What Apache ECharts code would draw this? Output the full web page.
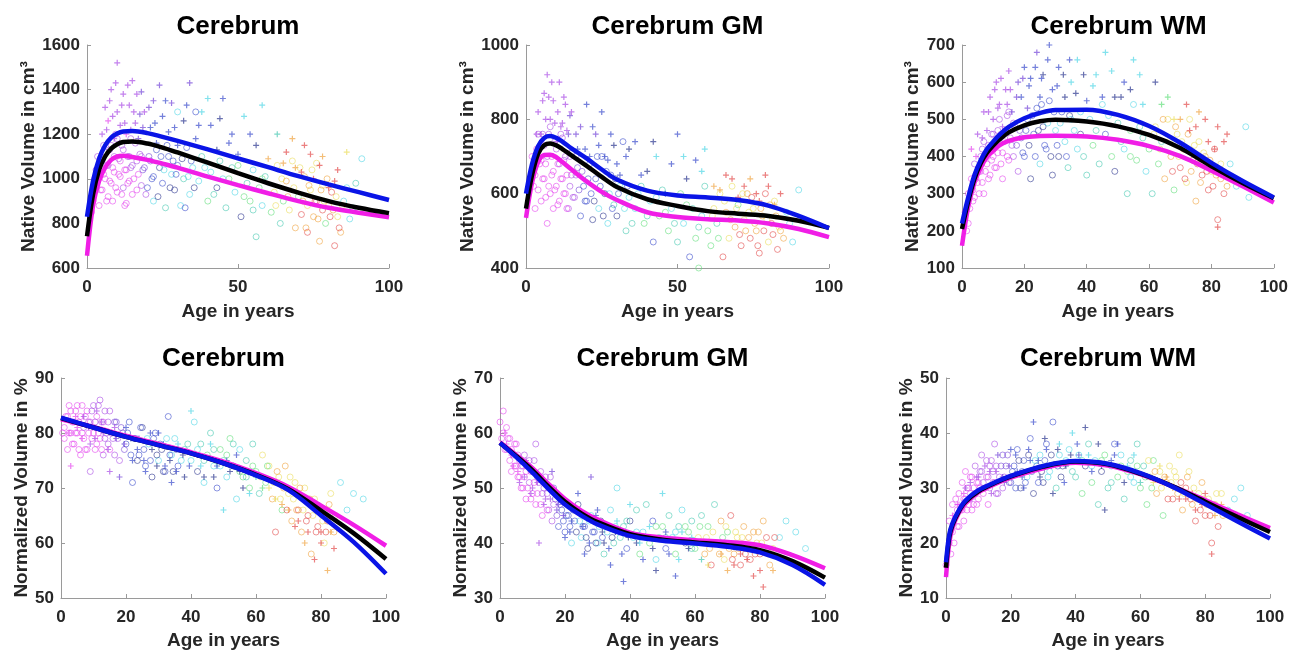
<!DOCTYPE html>
<html><head><meta charset="utf-8">
<script src="https://cdn.jsdelivr.net/npm/echarts@6/dist/echarts.min.js"></script>
<style>html,body{margin:0;padding:0;background:#fff}#c{width:1291px;height:651px}</style>
</head><body><div id="c"></div>
<script>
// palette index used by each scatter point (third value)
const PAL = ['#e445ee','#a94ce6','#7444d8','#3b4ccc','#2a348e','#4fd6e6','#45c8b0','#62df7c','#ebdd5a','#f0a23e','#e24a4a'];

// ---------- Panel 1: Cerebrum native ----------
const O1 = [[2,900,0],[3,960,0],[3,1040,1],[4,880,0],[4,1010,0],[5,1080,1],[5,950,0],[6,1120,1],[6,1000,0],[7,920,0],[7,1060,1],[8,1150,1],[8,980,0],[9,1030,0],[9,1100,1],[10,940,0],[10,1180,1],[11,1010,0],[11,1080,0],[12,960,1],[12,1130,1],[13,1040,0],[13,890,0],[14,1100,1],[14,990,0],[15,1060,1],[15,930,0],[16,1160,1],[17,1020,0],[18,970,1],[18,1100,1],[19,1050,2],
[20,960,3],[21,1080,2],[22,1010,3],[22,900,5],[23,1130,3],[24,1050,4],[25,980,3],[26,870,6],[27,1100,3],[28,1020,5],[29,950,4],[30,1060,3],[31,880,5],[32,1000,6],[33,1140,3],[34,930,5],[35,1050,5],[30,1300,5],[36,1300,3],
[37,990,5],[38,1100,6],[40,900,7],[41,1030,5],[43,960,4],[44,1080,6],[46,870,6],[47,1000,7],[49,940,5],[50,1060,7],[51,830,4],[53,980,6],[54,900,7],[55,1040,5],[56,740,6],[57,960,7],[58,880,5],[59,1010,6],
[61,850,7],[62,940,8],[63,1060,8],[64,800,6],[65,900,7],[66,990,9],[67,860,8],[68,1080,8],[69,780,9],[70,920,7],[71,840,10],[72,1010,9],[73,880,8],[73,760,10],[74,950,8],[75,830,9],[76,900,10],[76,1070,8],[77,720,9],[78,860,10],[78,970,8],[79,800,7],[80,880,9],[81,940,10],[82,700,10],[83,830,8],[84,760,9],[85,900,5],[87,820,5],[89,980,6],[91,1090,5],
[1.5,850,0],[2.5,1000,0],[3.5,1100,1],[4.5,950,0],[5.5,1020,0],[5.5,1150,1],[6.5,900,0],[6.5,1060,1],[7.5,990,0],[7.5,1130,1],[8.5,1050,0],[8.5,900,0],[9.5,960,0],[9.5,1200,1],[10.5,1020,0],[10.5,1090,1],[11.5,930,0],[11.5,1150,1],[12.5,1040,0],[12.5,880,0],[13.5,1100,1],[13.5,980,0],[14.5,1050,1],[14.5,1180,1],[15.5,1000,0],[16.5,1080,1],[16.5,950,0],[17.5,1110,1],[18.5,1040,2],[19.5,930,1],[20.5,1100,2],
[21.5,1000,3],[23.5,920,4],[24.5,1100,3],[25.5,1040,5],[26.5,1150,3],[27.5,960,4],[28.5,1080,3],[29.5,1020,3],[31.5,1090,4],[32.5,870,3],[33.5,1010,5],[34.5,1080,3],[35.5,960,4],
[39,1050,5],[42,930,6],[45,1000,5],[48,1050,6],[52,920,7],[55,860,6],[58,1000,7],
[62.5,880,8],[64.5,1000,8],[66.5,920,9],[68.5,960,8],[70.5,1050,8],[71.5,900,9],[72.5,780,9],[73.5,970,9],[74.5,1040,8],[75.5,900,10],[76.5,820,9],[77.5,950,9],[78.5,900,8],[79.5,1000,9],[80.5,830,10],[81.5,860,9],[82.5,920,8],[83.5,780,10],[84.5,880,8],[86,960,5],[88,870,6]];
const P1 = [[5,1200,1],[6,1320,1],[7,1260,0],[8,1400,1],[9,1180,1],[10,1300,1],[10,1520,1],[11,1240,1],[12,1380,1],[13,1200,0],[14,1330,1],[15,1440,1],[16,1250,1],[17,1180,2],[18,1390,2],[19,1300,1],[21,1230,3],[22,1350,2],[23,1160,3],[24,1420,2],[25,1280,3],[27,1210,3],[28,1340,2],[30,1150,3],[32,1260,4],[34,1430,2],[36,1180,3],[38,1300,5],[41,1240,3],[43,1130,4],[45,1360,3],[48,1200,3],[50,1110,3],[52,1280,5],[56,1150,4],[60,1090,9],[63,1200,6],[66,1120,10],[69,1050,9],[72,1150,10],[75,1000,10],[78,1100,9],[80,960,10],[83,1040,10],[86,1120,8],
[4.5,1100,1],[6.5,1220,1],[7.5,1350,1],[8.5,1280,1],[9.5,1430,1],[11.5,1330,1],[12.5,1250,1],[13.5,1420,1],[14.5,1220,1],[15.5,1300,1],[16.5,1380,1],[17.5,1290,2],[18.5,1230,2],[20.5,1320,2],[22.5,1250,3],[26,1350,3],[29,1230,3],[33,1330,3],[37,1240,3],[40,1360,5],[44,1270,4],[47,1160,3],[54,1200,3],[58,1330,5],[65,1070,9],[68,1180,9],[71,1030,10],[74,1110,10],[77,1060,10],[82,990,10]];
const AGE_A = [0,2,4,6,8,10,12,15,20,25,30,40,50,60,70,80,90,100];
const B1 = [830,990,1090,1150,1185,1203,1212,1214,1205,1188,1170,1132,1092,1052,1012,975,940,905];
const K1 = [742,930,1040,1100,1135,1155,1165,1167,1158,1140,1118,1072,1025,980,938,900,870,846];
const M1 = [655,880,990,1050,1085,1100,1103,1098,1085,1068,1050,1010,972,935,900,870,848,828];

// ---------- Panel 2: Cerebrum GM native ----------
const O2 = [[2,700,0],[3,560,0],[3,650,0],[4,760,1],[4,610,0],[5,690,0],[5,580,0],[6,730,1],[6,640,0],[7,520,0],[7,700,1],[8,600,0],[8,780,1],[9,660,0],[9,560,0],[10,720,1],[10,620,0],[11,680,1],[11,580,0],[12,750,1],[12,640,0],[13,600,0],[13,700,1],[14,560,1],[15,650,1],[15,710,2],[16,590,1],[17,670,2],[18,540,3],[19,620,3],
[20,580,3],[21,680,3],[22,530,4],[23,640,3],[24,560,5],[25,700,3],[26,600,4],[27,520,5],[28,650,3],[29,570,6],[30,540,4],[31,620,5],[32,740,3],[33,500,6],[34,590,5],
[36,560,5],[38,620,6],[39,520,7],[41,580,5],[42,470,3],[44,540,7],[45,610,6],[47,500,7],[48,560,5],[50,470,6],[51,600,7],[52,520,5],[54,430,3],[55,560,6],[56,480,7],[57,400,7],[58,540,5],[59,620,6],
[60,500,7],[61,460,7],[62,560,8],[63,520,6],[64,600,8],[65,430,10],[66,550,9],[67,480,8],[68,620,8],[69,510,9],[70,570,7],[71,460,10],[72,530,8],[73,600,9],[74,480,10],[75,560,8],[76,500,9],[77,440,10],[78,540,9],[79,600,10],[80,470,8],[81,520,10],[82,580,8],[83,450,10],[84,500,9],[86,550,5],[88,470,5],[90,610,5],
[2.5,620,0],[3.5,720,0],[4.5,680,0],[5.5,640,0],[5.5,760,1],[6.5,590,0],[6.5,680,0],[7.5,620,0],[7.5,760,1],[8.5,700,0],[8.5,650,0],[9.5,610,0],[9.5,740,1],[10.5,680,0],[10.5,570,0],[11.5,640,0],[11.5,760,1],[12.5,600,0],[12.5,690,1],[13.5,650,0],[13.5,560,0],[14.5,620,1],[14.5,700,1],[15.5,590,1],[16.5,650,1],[16.5,700,2],[17.5,610,2],[18.5,660,2],[19.5,580,3],[20.5,640,3],
[21.5,600,3],[22.5,580,4],[23.5,700,3],[24.5,620,3],[25.5,540,4],[26.5,660,3],[27.5,600,5],[28.5,560,3],[29.5,640,4],[30.5,600,3],[32.5,560,5],[33.5,620,3],[35,520,6],
[37,600,5],[40,540,6],[43,590,5],[46,550,7],[49,520,6],[53,570,7],[57,510,6],
[61.5,540,8],[63.5,480,7],[65.5,580,8],[67.5,530,9],[69.5,560,8],[70.5,490,10],[71.5,600,8],[72.5,500,9],[73.5,550,8],[74.5,590,10],[75.5,520,9],[76.5,460,10],[77.5,560,9],[78.5,500,10],[79.5,530,8],[80.5,570,9],[81.5,490,10],[82.5,540,9],[83.5,510,8],[85,480,9],[87,520,5]];
const P2 = [[4,820,1],[5,760,1],[6,870,1],[7,920,1],[8,800,1],[9,850,1],[10,740,1],[11,900,1],[12,790,1],[13,840,1],[14,760,2],[15,820,1],[17,720,3],[18,780,2],[20,840,3],[21,700,3],[23,760,2],[25,820,3],[27,690,3],[29,730,4],[31,650,3],[33,700,3],[36,740,3],[40,660,4],[43,700,5],[46,600,3],[50,760,3],[53,640,4],[56,690,3],[59,720,5],[62,620,9],[66,650,10],[70,590,10],[74,640,9],[77,580,10],[80,620,10],[84,600,10],
[3.5,760,1],[5.5,850,1],[6.5,800,1],[7.5,860,1],[8.5,900,1],[9.5,790,1],[10.5,820,1],[11.5,780,1],[12.5,860,1],[13.5,770,1],[14.5,810,2],[16.5,760,2],[19.5,720,3],[22,780,3],[24,730,3],[26,700,3],[28,760,3],[30,680,3],[34,720,4],[38,650,3],[42,740,4],[48,680,3],[52,700,5],[58,660,5],[64,610,9],[68,640,10],[72,620,10],[76,600,10],[79,650,10],[82,570,9]];
const B2 = [600,680,728,750,755,750,740,722,695,665,638,608,595,590,583,568,540,507];
const K2 = [560,650,708,730,735,730,720,703,675,645,618,585,567,553,546,540,527,508];
const M2 = [535,630,685,704,705,698,685,665,633,605,583,550,537,531,528,520,505,483];

// ---------- Panel 3: Cerebrum WM native ----------
const O3 = [[1,250,0],[2,300,0],[2,220,0],[3,340,0],[4,290,0],[4,380,1],[5,330,0],[6,400,1],[6,360,0],[7,300,0],[7,440,1],[8,380,0],[9,420,1],[9,350,0],[10,460,1],[10,400,0],[11,370,0],[12,440,1],[12,500,1],[13,410,0],[13,340,0],[14,470,1],[15,390,0],[15,520,1],[16,430,1],[17,480,2],[18,360,1],[19,450,2],
[20,400,3],[21,500,3],[22,340,4],[23,460,3],[24,530,3],[25,380,5],[26,480,4],[27,420,3],[28,550,3],[29,350,4],[30,470,5],[31,400,4],[32,520,3],[33,440,5],[34,370,6],[35,500,5],[37,420,5],[38,460,4],
[40,350,6],[41,500,5],[42,430,7],[44,380,6],[45,540,5],[46,460,3],[48,400,7],[49,360,4],[50,490,6],[52,420,5],[53,300,6],[54,470,7],[55,540,5],[56,390,7],[58,450,6],[59,360,5],
[60,420,7],[61,300,6],[62,480,8],[63,380,7],[64,440,6],[65,340,9],[66,500,8],[67,400,9],[68,310,7],[69,460,8],[70,370,10],[71,420,9],[72,330,8],[73,500,8],[74,390,10],[75,280,9],[76,440,8],[77,350,10],[78,400,9],[79,310,10],[80,360,8],[81,420,10],[82,230,10],[83,340,9],[84,300,10],[86,380,5],[88,320,5],[91,480,5],[92,290,5],
[1.5,200,0],[2.5,260,0],[3.5,280,0],[3.5,310,0],[4.5,340,0],[5.5,360,0],[5.5,300,0],[6.5,330,0],[6.5,420,1],[7.5,360,0],[7.5,400,0],[8.5,430,1],[8.5,340,0],[9.5,390,0],[9.5,460,1],[10.5,370,0],[10.5,430,1],[11.5,410,0],[11.5,470,1],[12.5,380,0],[12.5,460,1],[13.5,440,1],[14.5,400,0],[14.5,510,1],[15.5,450,1],[16.5,400,1],[16.5,490,1],[17.5,430,2],[18.5,470,2],[19.5,410,3],
[20.5,470,3],[21.5,430,4],[22.5,510,3],[23.5,400,3],[24.5,470,4],[25.5,540,3],[26.5,430,3],[27.5,490,5],[28.5,400,4],[29.5,520,3],[30.5,430,3],[31.5,490,5],[33.5,400,3],[34.5,510,4],[36,470,5],[38,520,5],[39,400,6],
[43,470,6],[47,510,5],[51,440,6],[54,400,7],[57,480,6],
[61.5,460,8],[63.5,420,8],[64.5,500,9],[66.5,440,8],[67.5,360,10],[68.5,480,9],[69.5,400,8],[70.5,440,8],[71.5,340,10],[72.5,460,9],[73.5,360,9],[74.5,430,8],[75.5,380,10],[76.5,330,9],[77.5,410,8],[78.5,360,10],[79.5,390,9],[80.5,320,10],[81.5,350,9],[83,380,8],[85,320,9]];
const P3 = [[3,420,0],[5,460,1],[7,520,1],[8,470,1],[9,560,1],[10,500,1],[11,600,1],[12,540,1],[13,480,1],[14,580,1],[15,630,1],[16,520,2],[18,600,2],[19,560,3],[20,640,3],[21,530,2],[22,610,3],[24,680,2],[25,560,3],[26,620,4],[28,700,3],[29,580,3],[31,640,3],[33,560,4],[35,600,5],[37,660,5],[40,550,3],[43,620,5],[46,680,5],[49,560,4],[52,600,3],[55,660,5],[58,540,5],[62,600,4],[66,560,7],[70,500,9],[73,470,10],[76,520,9],[79,440,10],[82,480,10],[85,460,10],[82,210,10],
[4.5,400,0],[6.5,450,1],[8.5,520,1],[10.5,580,1],[11.5,530,1],[12.5,610,1],[14.5,540,1],[15.5,580,1],[17.5,560,2],[19.5,610,2],[21.5,590,3],[23.5,640,3],[25.5,610,3],[27.5,660,3],[30.5,590,3],[32.5,620,4],[34.5,660,3],[36.5,570,4],[39,620,4],[42,590,5],[45,560,3],[48,630,5],[51,560,4],[54,580,4],[57,620,5],[64,540,7],[68,500,8],[72,540,10],[75,480,10],[78,500,10],[81,420,10],[84,440,10]];
const B3 = [220,290,350,390,420,440,458,480,503,517,525,526,512,482,437,383,334,290];
const K3 = [205,280,340,382,410,430,446,465,484,495,499,494,481,458,423,374,329,288];
const M3 = [160,265,330,370,398,415,430,442,452,455,456,454,445,428,401,362,320,276];

// ---------- Panel 4: Cerebrum normalized ----------
const O4 = [[1,81,0],[1,79,0],[2,83,0],[2,77,0],[3,80,0],[3,84,0],[4,78,0],[4,82,0],[5,85,0],[5,80,0],[6,76,0],[6,83,0],[7,79,0],[7,81,1],[8,84,0],[8,77,0],[9,82,0],[9,73,1],[10,80,0],[10,85,1],[11,78,0],[11,83,0],[12,86,1],[12,79,0],[13,76,1],[13,82,0],[14,80,1],[15,84,1],[15,77,0],[16,79,1],[17,82,2],[18,75,1],[19,80,2],
[20,78,3],[21,82,3],[22,71,3],[23,79,2],[24,76,3],[25,81,4],[26,74,3],[27,78,5],[28,72,4],[29,80,3],[30,75,5],[31,77,4],[32,73,3],[33,83,3],[34,76,5],[35,79,5],[36,74,3],[38,77,6],
[40,75,5],[41,82,5],[42,73,4],[43,78,6],[44,71,5],[45,76,7],[46,80,6],[47,74,5],[48,70,3],[49,77,7],[50,75,6],[51,72,5],[52,79,7],[53,74,4],[54,68,5],[55,77,5],[56,72,7],[57,75,6],[58,70,7],[59,78,6],
[60,73,7],[61,69,6],[62,76,8],[63,71,7],[64,74,8],[65,68,9],[66,62,10],[67,72,8],[68,66,7],[69,74,9],[70,69,8],[71,64,9],[72,71,8],[73,66,10],[74,62,9],[75,70,8],[76,65,10],[77,58,9],[78,68,8],[79,63,10],[80,66,9],[81,60,8],[82,64,10],[83,69,8],[84,62,9],[86,71,5],[88,66,5],[90,69,5],[93,68,5],
[0.5,80,0],[1.5,83,0],[2.5,80,0],[2.5,85,0],[3.5,78,0],[3.5,82,0],[4.5,80,0],[4.5,84,0],[5.5,77,0],[5.5,82,0],[6.5,80,0],[6.5,85,0],[7.5,77,0],[7.5,83,0],[8.5,80,0],[8.5,82,1],[9.5,79,0],[9.5,84,1],[10.5,77,0],[10.5,82,1],[11.5,80,0],[11.5,85,1],[12.5,77,0],[12.5,82,1],[13.5,79,1],[13.5,84,1],[14.5,78,1],[14.5,82,1],[15.5,80,1],[16.5,76,1],[16.5,82,2],[17.5,79,1],[18.5,81,2],[19.5,77,2],
[20.5,80,3],[21.5,76,3],[22.5,79,3],[23.5,75,4],[24.5,81,3],[25.5,77,3],[26.5,79,5],[27.5,75,3],[28.5,79,3],[29.5,76,4],[30.5,78,3],[31.5,73,4],[32.5,79,5],[33.5,76,3],[34.5,73,4],[35.5,77,3],[37,75,5],[39,78,6],
[42,77,5],[44,75,6],[47,77,6],[49,74,5],[51,76,7],[53,78,6],[55,73,7],[57,72,6],[59,74,7],
[61.5,72,8],[63.5,74,7],[65.5,71,8],[66.5,73,9],[67.5,68,8],[68.5,70,9],[69.5,66,10],[70.5,72,8],[71.5,68,8],[72.5,66,9],[73.5,70,9],[74.5,66,8],[75.5,64,10],[76.5,68,9],[77.5,65,8],[78.5,62,10],[79.5,66,9],[80.5,64,8],[81.5,62,10],[82.5,67,9],[84.5,65,8]];
const P4 = [[3,74,0],[5,81,0],[7,83,1],[9,78,1],[11,84,1],[13,80,1],[15,73,1],[17,79,2],[18,72,2],[20,81,3],[22,75,3],[24,79,3],[26,73,3],[28,77,4],[30,80,3],[32,74,3],[34,71,3],[36,78,5],[38,72,4],[40,84,5],[42,76,3],[44,72,4],[46,78,5],[48,74,3],[50,66,5],[52,73,4],[54,76,3],[56,70,4],[60,72,6],[64,70,8],[68,67,9],[72,63,10],[75,60,9],[78,57,10],[80,62,10],[82,55,9],[84,59,10],
[2.5,80,0],[4.5,83,0],[6.5,79,0],[8.5,81,1],[10.5,79,1],[12.5,82,1],[14.5,77,1],[16.5,81,1],[19.5,78,2],[21.5,79,3],[23.5,77,3],[25.5,75,3],[27.5,80,3],[29.5,74,4],[31.5,78,3],[33.5,75,4],[35.5,73,3],[37.5,76,4],[39.5,74,3],[43,74,5],[47,72,4],[51,75,3],[55,73,4],[58,69,5],[62,70,7],[66,68,8],[70,66,9],[73,64,10],[76,62,10],[80,60,10],[83,62,9]];
const AGE_D = [0,10,20,30,40,50,60,70,80,90,100];
const B4 = [82.8,81.0,79.3,77.8,76.3,74.5,72.3,69.6,65.0,60.2,54.4];
const K4 = [82.7,81.0,79.3,77.8,76.3,74.5,72.4,69.8,65.9,61.8,57.1];
const M4 = [82.5,81.1,79.5,78.0,76.5,74.8,72.7,70.2,66.8,63.3,59.5];

// ---------- Panel 5: Cerebrum GM normalized ----------
const O5 = [[0,62,0],[1,64,0],[1,60,0],[2,57,0],[2,61,0],[3,55,0],[3,59,0],[4,56,0],[5,54,0],[5,58,0],[6,52,0],[6,55,0],[7,50,0],[7,54,1],[8,53,0],[8,48,0],[9,51,1],[9,55,1],[10,49,0],[10,53,1],[11,58,1],[11,47,0],[12,51,1],[13,45,0],[13,49,1],[14,52,1],[15,46,1],[15,50,2],[16,44,1],[17,48,2],[18,43,3],[19,46,3],
[20,42,3],[21,45,3],[22,40,5],[23,44,3],[24,47,4],[25,41,5],[26,43,3],[27,39,4],[28,45,5],[29,42,3],[30,40,5],[31,44,4],[32,38,6],[33,42,5],[34,46,5],[35,40,6],[36,50,5],[38,43,6],[39,39,3],
[40,44,4],[41,41,5],[42,46,6],[43,38,7],[44,42,5],[45,47,6],[46,40,7],[47,44,3],[48,37,5],[49,41,6],[50,43,7],[51,39,3],[52,45,6],[53,41,5],[54,38,7],[55,43,6],[56,46,5],[57,40,4],[58,42,7],[59,44,6],
[60,39,7],[61,41,8],[62,45,6],[63,38,9],[64,43,7],[65,36,10],[66,47,6],[67,40,8],[68,44,9],[69,37,8],[70,42,7],[71,45,10],[72,38,9],[73,41,8],[74,36,10],[75,43,9],[76,39,8],[77,37,10],[78,42,9],[79,40,8],[80,38,10],[81,44,9],[82,41,10],[83,36,9],[84,39,8],[86,41,5],[88,44,5],[91,42,5],[94,39,5],
[0.5,59,0],[1.5,57,0],[2.5,59,0],[3.5,57,0],[3.5,53,0],[4.5,54,0],[4.5,58,0],[5.5,52,0],[5.5,56,0],[6.5,54,0],[6.5,50,0],[7.5,52,0],[7.5,56,1],[8.5,50,0],[8.5,54,1],[9.5,48,0],[9.5,53,0],[10.5,51,0],[10.5,55,1],[11.5,49,0],[11.5,52,1],[12.5,47,0],[12.5,53,1],[13.5,50,1],[14.5,46,0],[14.5,49,1],[15.5,52,1],[16.5,47,1],[16.5,50,2],[17.5,45,2],[18.5,47,2],[19.5,44,3],
[20.5,45,3],[21.5,43,3],[22.5,46,3],[23.5,42,4],[24.5,44,5],[25.5,43,3],[26.5,41,4],[27.5,44,5],[28.5,42,3],[29.5,40,4],[30.5,43,5],[31.5,41,3],[32.5,43,5],[34.5,41,4],[35.5,43,5],[37,41,6],[39,44,6],
[42,42,5],[45,41,6],[48,43,7],[51,41,6],[54,42,5],[57,43,7],[59,39,6],
[61.5,43,7],[63.5,41,8],[64.5,39,9],[65.5,42,8],[67.5,38,9],[68.5,41,7],[69.5,43,8],[70.5,39,9],[71.5,37,10],[72.5,42,8],[73.5,39,9],[74.5,41,8],[75.5,38,10],[76.5,41,9],[77.5,39,8],[78.5,38,10],[79.5,42,9],[80.5,40,8],[82.5,38,9],[84.5,41,10]];
const P5 = [[2,58,0],[4,54,0],[6,51,1],[8,55,1],[10,50,1],[12,40,1],[14,48,1],[16,53,2],[18,47,2],[20,41,3],[22,44,3],[24,49,3],[26,38,3],[28,52,2],[30,46,3],[32,40,4],[34,36,3],[36,44,5],[38,33,3],[40,47,5],[42,40,4],[44,37,3],[46,43,5],[48,35,4],[50,49,5],[52,38,3],[54,34,3],[56,42,5],[58,39,4],[62,37,6],[66,40,8],[70,35,9],[74,38,10],[78,34,10],[81,32,10],[84,35,9],
[1.5,60,0],[3.5,56,0],[5.5,53,0],[7.5,52,1],[9.5,49,1],[11.5,51,1],[13.5,47,1],[15.5,48,1],[17.5,46,2],[19.5,45,2],[21.5,42,3],[23.5,46,3],[25.5,43,3],[27.5,40,3],[29.5,45,3],[31.5,42,4],[33.5,39,3],[35.5,42,4],[37.5,38,3],[39.5,41,4],[43,40,5],[47,39,4],[51,42,3],[55,37,5],[59,41,5],[64,36,8],[68,38,9],[72,36,10],[76,37,10],[80,35,10],[83,38,9]];
const AGE_E = [0,5,10,15,20,25,30,40,50,60,70,80,90,100];
const B5 = [58.2,55.6,52.8,49.8,47.0,45.0,43.4,41.3,40.4,39.9,39.3,38.3,36.0,32.4];
const K5 = [58.2,55.8,53.2,50.2,47.5,45.4,43.8,41.6,40.6,40.1,39.6,38.7,36.7,33.7];
const M5 = [58.3,56.0,53.6,50.7,48.0,45.9,44.3,41.9,41.0,40.5,40.2,39.6,37.8,35.4];

// ---------- Panel 6: Cerebrum WM normalized ----------
const O6 = [[0,16,0],[1,20,0],[1,24,0],[2,22,0],[2,27,0],[3,25,0],[3,28,0],[4,23,0],[4,29,0],[5,26,0],[5,31,0],[6,28,0],[6,33,0],[7,27,0],[7,30,1],[8,32,0],[8,26,0],[9,29,1],[9,34,1],[10,31,0],[10,28,0],[11,33,1],[11,36,1],[12,30,0],[13,32,1],[13,27,0],[14,35,1],[15,31,1],[15,38,1],[16,29,1],[17,34,2],[18,32,1],[19,36,2],
[20,31,3],[21,34,3],[22,37,3],[23,30,4],[24,35,3],[25,32,5],[26,39,3],[27,29,4],[28,34,3],[29,36,5],[30,31,4],[31,38,3],[32,33,5],[33,42,3],[34,30,6],[35,36,5],[36,34,4],[38,37,5],
[40,32,6],[41,36,5],[42,29,7],[43,34,4],[44,38,6],[45,31,7],[46,35,5],[47,27,6],[48,33,4],[49,36,7],[50,30,6],[51,34,5],[52,38,3],[53,32,7],[54,36,5],[55,28,6],[56,33,7],[57,35,6],[58,31,5],[59,38,6],
[60,30,7],[61,34,6],[62,27,7],[63,32,8],[64,35,7],[65,29,9],[66,33,8],[67,25,7],[68,31,9],[69,34,8],[70,28,10],[71,32,8],[72,36,8],[73,26,9],[74,30,10],[75,33,8],[76,27,9],[77,24,10],[78,29,8],[79,31,9],[80,25,10],[81,28,8],[82,20,10],[83,27,9],[84,23,10],[85,29,8],[87,26,5],[89,28,5],[91,30,5],[93,25,5],
[1.5,18,0],[2.5,20,0],[3.5,23,0],[3.5,26,0],[4.5,26,0],[5.5,24,0],[5.5,28,0],[6.5,26,0],[6.5,30,0],[7.5,29,0],[7.5,32,0],[8.5,30,0],[8.5,27,0],[9.5,31,0],[9.5,27,0],[10.5,30,0],[10.5,33,1],[11.5,29,0],[11.5,31,1],[12.5,32,0],[12.5,35,1],[13.5,30,1],[13.5,34,1],[14.5,31,0],[14.5,33,1],[15.5,29,1],[15.5,34,1],[16.5,32,1],[17.5,30,1],[17.5,36,2],[18.5,34,2],[19.5,31,2],
[20.5,33,3],[21.5,30,3],[22.5,35,4],[23.5,33,3],[24.5,31,3],[25.5,36,4],[26.5,33,3],[27.5,35,5],[28.5,31,3],[29.5,33,4],[30.5,35,3],[31.5,32,5],[32.5,36,4],[34.5,34,3],[35.5,32,4],[37,35,5],[39,33,6],
[42,35,6],[45,34,5],[48,35,7],[51,31,6],[54,34,7],[57,32,5],[59,34,7],
[61.5,32,7],[62.5,35,8],[63.5,30,7],[64.5,33,9],[66.5,30,8],[67.5,32,9],[68.5,28,10],[69.5,31,8],[70.5,33,8],[71.5,29,9],[72.5,31,10],[73.5,29,8],[74.5,32,9],[75.5,28,10],[76.5,30,8],[77.5,28,9],[78.5,26,10],[79.5,28,8],[80.5,27,9],[81.5,25,10],[83.5,29,8],[85.5,25,9]];
const P6 = [[2,25,0],[4,27,0],[6,30,1],[8,28,1],[10,32,1],[12,34,1],[14,29,1],[16,36,2],[18,31,2],[20,37,3],[22,33,3],[24,30,3],[26,35,3],[27,42,3],[29,32,4],[31,37,3],[33,29,4],[35,38,5],[37,34,4],[39,40,5],[41,36,3],[43,41,4],[45,33,3],[47,38,4],[49,26,4],[51,35,3],[53,38,3],[55,31,4],[58,36,5],[62,32,6],[66,34,8],[70,30,9],[74,28,10],[77,26,10],[80,29,10],[82,18,10],[85,27,9],
[1.5,22,0],[3.5,27,0],[5.5,29,0],[7.5,31,1],[9.5,32,1],[11.5,30,1],[13.5,33,1],[15.5,33,1],[17.5,32,2],[19.5,34,2],[21.5,36,3],[23.5,32,3],[25.5,37,3],[28.5,35,3],[30.5,39,4],[32.5,34,3],[34.5,37,4],[36.5,31,3],[38.5,36,4],[40.5,38,3],[44,36,5],[48,34,4],[52,36,3],[56,34,5],[60,31,6],[64,31,8],[68,32,9],[72,28,10],[76,29,10],[79,27,10],[83,25,9]];
const AGE_F = [0,1,2,4,6,10,15,20,30,40,50,60,70,80,90,100];
const B6 = [16.5,21.5,23.6,26.0,27.7,29.6,31.0,32.2,34.0,34.9,34.4,32.7,30.2,27.1,23.9,20.8];
const K6 = [15.5,21.0,23.3,25.8,27.5,29.4,30.9,32.1,33.9,34.8,34.3,32.6,30.3,27.5,24.7,22.0];
const M6 = [13.8,20.0,22.8,25.5,27.2,29.2,30.7,31.9,33.6,34.6,34.1,32.5,30.3,27.8,25.2,22.7];

const TITLES = ['Cerebrum','Cerebrum GM','Cerebrum WM','Cerebrum','Cerebrum GM','Cerebrum WM'];
const YNAMES = ['Native Volume in cm\u00B3','Native Volume in cm\u00B3','Native Volume in cm\u00B3','Normalized Volume in %','Normalized Volume in %','Normalized Volume in %'];
const XNAME = 'Age in years';

const FONT = '"Liberation Sans", Arial, Helvetica, sans-serif';
const TXT = '#262626';
const AX = '#9a9a9a';

const panels = [
  {g:{left:87,top:45,width:302,height:223}, y:[600,1600,200], xi:50, yg:41, xg:34, O:O1,P:P1, age:AGE_A, B:B1,K:K1,M:M1},
  {g:{left:526,top:45,width:303,height:223}, y:[400,1000,200], xi:50, yg:43, xg:34, O:O2,P:P2, age:AGE_A, B:B2,K:K2,M:M2},
  {g:{left:962,top:45,width:313,height:223}, y:[100,700,100], xi:20, yg:36, xg:34, O:O3,P:P3, age:AGE_A, B:B3,K:K3,M:M3},
  {g:{left:61,top:378,width:325,height:223}, y:[50,90,10], xi:20, yg:26, xg:33, O:O4,P:P4, age:AGE_D, B:B4,K:K4,M:M4},
  {g:{left:500,top:378,width:325,height:223}, y:[30,70,10], xi:20, yg:28, xg:33, O:O5,P:P5, age:AGE_E, B:B5,K:K5,M:M5},
  {g:{left:946,top:378,width:324,height:223}, y:[10,50,10], xi:20, yg:28, xg:33, O:O6,P:P6, age:AGE_F, B:B6,K:K6,M:M6}
];

const PLUS = 'path://M2,0h1v2h2v1h-2v2h-1v-2h-2v-1h2z';
const grid=[], xAxis=[], yAxis=[], series=[], graphic=[];
const labelStyle = {color:TXT, fontSize:17, fontWeight:'bold', fontFamily:FONT, formatter:v=>String(v)};
const nameStyle = {color:TXT, fontSize:19, fontWeight:'bold', fontFamily:FONT};

panels.forEach((p,i)=>{
  grid.push(Object.assign({containLabel:false}, p.g));
  xAxis.push({type:'value', gridIndex:i, min:0, max:100, interval:p.xi,
    name:XNAME, nameLocation:'middle', nameGap:p.xg, nameTextStyle:nameStyle,
    axisLine:{show:true, onZero:false, lineStyle:{color:AX, width:1}},
    axisTick:{show:true, inside:true, length:4, lineStyle:{color:AX}},
    axisLabel:{margin:11, ...labelStyle}, splitLine:{show:false}});
  yAxis.push({type:'value', gridIndex:i, min:p.y[0], max:p.y[1], interval:p.y[2],
    name:YNAMES[i], nameLocation:'middle', nameGap:p.yg, nameRotate:90, nameTextStyle:nameStyle,
    axisLine:{show:true, onZero:false, lineStyle:{color:AX, width:1}},
    axisTick:{show:true, inside:true, length:4, lineStyle:{color:AX}},
    axisLabel:{margin:7, ...labelStyle}, splitLine:{show:false}});
  series.push({type:'scatter', xAxisIndex:i, yAxisIndex:i, symbol:'circle', symbolSize:6, silent:true,
    data:p.O.map(d=>({value:[d[0],d[1]], itemStyle:{color:'rgba(255,255,255,0)', borderColor:PAL[d[2]], borderWidth:0.9, opacity:0.65}}))});
  series.push({type:'scatter', xAxisIndex:i, yAxisIndex:i, symbol:PLUS, symbolSize:6, silent:true,
    data:p.P.map(d=>({value:[d[0],d[1]], itemStyle:{color:PAL[d[2]], opacity:0.7}}))});
  [[p.M,'#f01ee6'],[p.K,'#000000'],[p.B,'#0a14e6']].forEach(([v,c])=>{
    series.push({type:'line', xAxisIndex:i, yAxisIndex:i, smooth:0.35, showSymbol:false, silent:true,
      lineStyle:{color:c, width:4.5}, data:p.age.map((a,j)=>[a,v[j]])});
  });
  const cx = p.g.left + p.g.width/2;
  const cy = i<3 ? 27 : 359;
  graphic.push({type:'text', x:cx, y:cy, style:{text:TITLES[i], textAlign:'center', textVerticalAlign:'middle',
    font:'bold 26px '+FONT, fill:'#000'}});
});

const chart = echarts.init(document.getElementById('c'), null, {renderer:'canvas'});
chart.setOption({animation:false, backgroundColor:'#fff', grid, xAxis, yAxis, series, graphic});
</script>
</body></html>
